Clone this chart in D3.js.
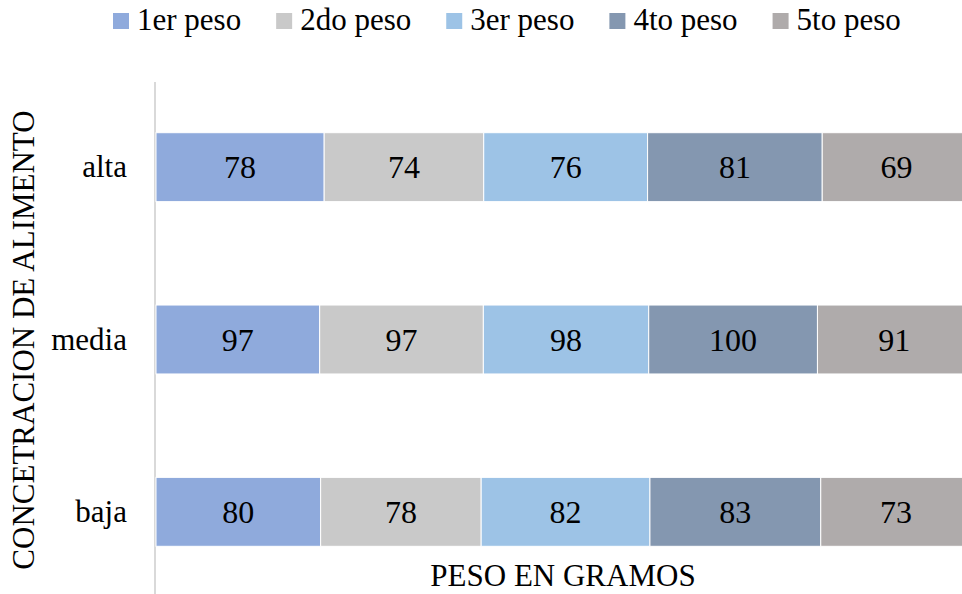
<!DOCTYPE html>
<html>
<head>
<meta charset="utf-8">
<script src="https://cdn.jsdelivr.net/npm/d3@7"></script>
<style>
  html, body { margin: 0; padding: 0; background: #fff; overflow: hidden; }
  svg { display: block; }
  svg text { font-family: 'Liberation Serif', 'Times New Roman', Tinos, 'DejaVu Serif', serif; }
</style>
</head>
<body>
<svg id="chart" width="962" height="594"></svg>
<script>
// Food concentration levels (top to bottom)
const categories = ["alta", "media", "baja"];
// Weighing rounds
const seriesNames = ["1er peso", "2do peso", "3er peso", "4to peso", "5to peso"];
// Weight in grams per round, in category order
const peso1 = [78, 97, 80];
const peso2 = [74, 97, 78];
const peso3 = [76, 98, 82];
const peso4 = [81, 100, 83];
const peso5 = [69, 91, 73];
const seriesColors = ["#8FAADC", "#C9C9C9", "#9DC3E6", "#8497B0", "#AFABAB"];

const FONT = "'Liberation Serif', 'Times New Roman', Tinos, 'DejaVu Serif', serif";

const seriesValues = [peso1, peso2, peso3, peso4, peso5];
const rows = categories.map((c, i) => {
  const r = { cat: c };
  seriesNames.forEach((s, j) => { r[s] = seriesValues[j][i]; });
  return r;
});

const svg = d3.select("#chart");

// The plot area runs a little past the right edge of the canvas
const x = d3.scaleLinear().domain([0, 1]).range([156, 971]);
const y = d3.scaleBand().domain(categories).range([81, 598])
  .paddingInner(0.6).paddingOuter(0.3);
const color = d3.scaleOrdinal().domain(seriesNames).range(seriesColors);

// 100% stacked layout
const stacked = d3.stack().keys(seriesNames).offset(d3.stackOffsetExpand)(rows);

// Vertical category axis line
svg.append("line")
  .attr("x1", 155).attr("x2", 155)
  .attr("y1", 82).attr("y2", 594)
  .attr("stroke", "#D9D9D9").attr("stroke-width", 2);

const layers = svg.append("g").selectAll("g")
  .data(stacked).join("g")
  .attr("fill", d => color(d.key));

layers.selectAll("rect")
  .data(d => d.map(p => ({ p, key: d.key })))
  .join("rect")
  .attr("x", d => x(d.p[0]))
  .attr("y", d => y(d.p.data.cat))
  .attr("width", d => x(d.p[1]) - x(d.p[0]))
  .attr("height", y.bandwidth())
  .attr("stroke", "#fff").attr("stroke-width", 1);

// Value labels inside each segment
layers.selectAll("text")
  .data(d => d.map(p => ({ p, key: d.key })))
  .join("text")
  .attr("x", d => (x(d.p[0]) + x(d.p[1])) / 2)
  .attr("y", d => y(d.p.data.cat) + y.bandwidth() / 2)
  .attr("dy", "0.35em")
  .attr("text-anchor", "middle")
  .attr("fill", "#000")
  .attr("font-family", FONT)
  .attr("font-size", 32)
  .text(d => d.p.data[d.key]);

// Category labels
const yAxis = d3.axisLeft(y).tickSize(0).tickPadding(0);
const gy = svg.append("g").attr("transform", "translate(127,0)").call(yAxis)
  .attr("font-family", FONT);
gy.select(".domain").remove();
gy.selectAll("text")
  .attr("font-family", FONT)
  .attr("font-size", 31)
  .attr("fill", "#000")
  .attr("dy", "0.33em");

// Axis titles
svg.append("text")
  .attr("x", 563).attr("y", 586)
  .attr("text-anchor", "middle")
  .attr("font-family", FONT)
  .attr("font-size", 31)
  .text("PESO EN GRAMOS");

svg.append("text")
  .attr("transform", "translate(34,340) rotate(-90)")
  .attr("text-anchor", "middle")
  .attr("font-family", FONT)
  .attr("font-size", 31)
  .text("CONCETRACION DE ALIMENTO");

// Legend
const legend = svg.append("g");
let lx = 113;
seriesNames.forEach(name => {
  legend.append("rect")
    .attr("x", lx).attr("y", 13)
    .attr("width", 16).attr("height", 16)
    .attr("fill", color(name));
  const t = legend.append("text")
    .attr("x", lx + 24).attr("y", 30)
    .attr("font-family", FONT)
    .attr("font-size", 31)
    .text(name);
  lx += 24 + t.node().getComputedTextLength() + 35;
});
</script>
</body>
</html>
